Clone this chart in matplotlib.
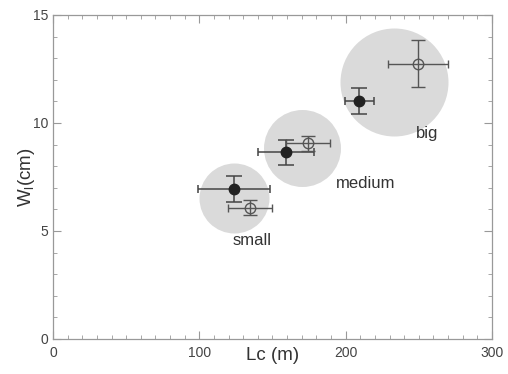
import numpy as np
import matplotlib.pyplot as plt
from matplotlib.ticker import MultipleLocator

plt.rcParams['font.family'] = ['Liberation Sans', 'DejaVu Sans']

# gray group circles
groups = ['small', 'medium', 'big']
circle_x = [123.8, 170.0, 232.7]
circle_y = [6.54, 8.85, 11.91]
circle_r_px = [35, 38.5, 54]
label_x = [136, 214, 256]
label_y = [4.58, 7.22, 9.49]

# filled points
filled_x = [123.7, 159.3, 209.4]
filled_y = [6.94, 8.64, 11.03]
filled_xerr = [24.5, 19.3, 10.0]
filled_yerr = [0.6, 0.58, 0.6]

# open points
open_x = [134.5, 174.3, 249.3]
open_y = [6.08, 9.05, 12.75]
open_xerr = [15.0, 14.8, 20.4]
open_yerr = [0.35, 0.34, 1.1]

fig = plt.figure(figsize=(5.08, 3.74), dpi=100)
ax = fig.add_axes([0.1043, 0.0936, 0.8642, 0.8664])

# circle size: radius in px -> diameter in points
for cx, cy, r in zip(circle_x, circle_y, circle_r_px):
    ax.plot(cx, cy, 'o', ms=2 * r * 0.72, mfc='#dadada', mec='none', zorder=1)

for name, lx, ly in zip(groups, label_x, label_y):
    ax.text(lx, ly, name, ha='center', va='center', fontsize=12, color='#333333')

ecol = '#444444'
ax.errorbar(filled_x, filled_y, xerr=filled_xerr, fmt='none', ecolor=ecol,
            elinewidth=1.1, capsize=3, capthick=1.1, zorder=2)
ax.errorbar(filled_x, filled_y, yerr=filled_yerr, fmt='none', ecolor=ecol,
            elinewidth=1.1, capsize=6, capthick=1.1, zorder=2)
ax.plot(filled_x, filled_y, 'o', ms=7.5, mfc='#222222', mec='#222222', zorder=3)

ax.errorbar(open_x, open_y, xerr=open_xerr, fmt='none', ecolor='#555555',
            elinewidth=1.0, capsize=3, capthick=1.0, zorder=2)
ax.errorbar(open_x, open_y, yerr=open_yerr, fmt='none', ecolor='#555555',
            elinewidth=1.0, capsize=5, capthick=1.0, zorder=2)
ax.plot(open_x, open_y, 'o', ms=7.5, mfc='none', mec='#555555', mew=1.0, zorder=3)

ax.set_xlim(0, 300)
ax.set_ylim(0, 15)
ax.set_xticks([0, 100, 200, 300])
ax.set_yticks([0, 5, 10, 15])
ax.xaxis.set_minor_locator(MultipleLocator(10))
ax.yaxis.set_minor_locator(MultipleLocator(1))
ax.tick_params(which='both', direction='in', top=True, right=True,
               color='#999999', labelcolor='#444444', labelsize=10)
ax.tick_params(axis='x', which='major', pad=5)
ax.tick_params(which='major', length=6, width=0.8)
ax.tick_params(which='minor', length=3, width=0.6)
for s in ax.spines.values():
    s.set_color('#999999')
    s.set_linewidth(0.9)

ax.set_xlabel('Lc (m)', fontsize=13.5, color='#333333')
ax.set_ylabel('W$_\\mathregular{l}$(cm)', fontsize=13.5, color='#333333')
ax.xaxis.set_label_coords(0.5, -0.026)
ax.yaxis.set_label_coords(-0.036, 0.5)

fig.savefig('out.png', dpi=100)
